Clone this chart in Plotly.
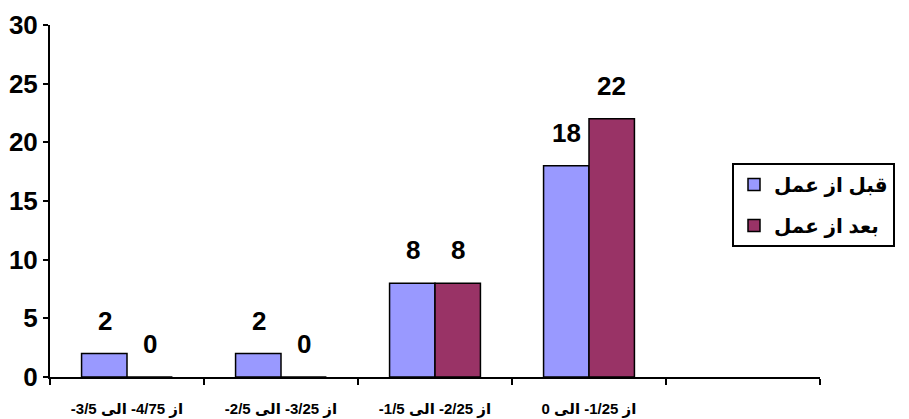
import plotly.graph_objects as go

categories = ["از 4/75- الی 3/5-", "از 3/25- الی 2/5-", "از 2/25- الی 1/5-", "از 1/25- الی 0", " "]
before = [2, 2, 8, 18, None]
after = [0, 0, 8, 22, None]
series_names = ["قبل از عمل", "بعد از عمل"]
colors = ["#9999FF", "#993366"]

def rtl(s):
    return "\u202B" + s + "\u202C"

labels = [rtl(c) if c.strip() else c for c in categories]

FONT = "Liberation Sans, Arial, DejaVu Sans, sans-serif"

fig = go.Figure()
for name, vals, col, grp in [(series_names[0], before, colors[0], "a"), (series_names[1], after, colors[1], "b")]:
    fig.add_trace(go.Bar(
        x=labels, y=vals, name=rtl(name), legendgroup=grp,
        marker=dict(color=col, line=dict(color="black", width=1.5)),
        hoverinfo="skip",
    ))

# value labels
for vals, shift in [(before, -22.5), (after, 22.5)]:
    for lab, v in zip(labels, vals):
        if v is None:
            continue
        fig.add_annotation(
            x=lab, y=v, xref="x", yref="y", text=str(v), showarrow=False,
            xshift=shift, yshift=16, yanchor="bottom",
            font=dict(family=FONT, size=26, color="black", weight="bold"),
        )

fig.update_layout(
    width=909, height=419,
    margin=dict(l=50, r=89, t=25, b=42),
    paper_bgcolor="white", plot_bgcolor="white",
    barmode="group", bargap=0.41, bargroupgap=0,
    showlegend=True,
    legend=dict(
        x=(895 - 50) / 770, xanchor="right", y=(377 - 163) / 352, yanchor="top",
        bordercolor="black", borderwidth=2, bgcolor="white",
        font=dict(family=FONT, size=20, color="black", weight="bold"),
        tracegroupgap=12, traceorder="grouped",
    ),
    xaxis=dict(
        type="category", tickson="boundaries", ticks="outside", ticklen=6, tickwidth=2,
        tickcolor="black", showline=True, linecolor="black", linewidth=2,
        showgrid=False, zeroline=False, ticklabelstandoff=17, automargin=False,
        tickfont=dict(family=FONT, size=15, color="black", weight="bold"),
        fixedrange=True,
    ),
    yaxis=dict(
        range=[0, 30], dtick=5, ticks="outside", ticklen=5, tickwidth=2, tickcolor="black",
        showline=True, linecolor="black", linewidth=2, showgrid=False, zeroline=False,
        automargin=False,
        tickfont=dict(family=FONT, size=26, color="black", weight="bold"),
        fixedrange=True,
    ),
)

fig.write_html("out.html")
